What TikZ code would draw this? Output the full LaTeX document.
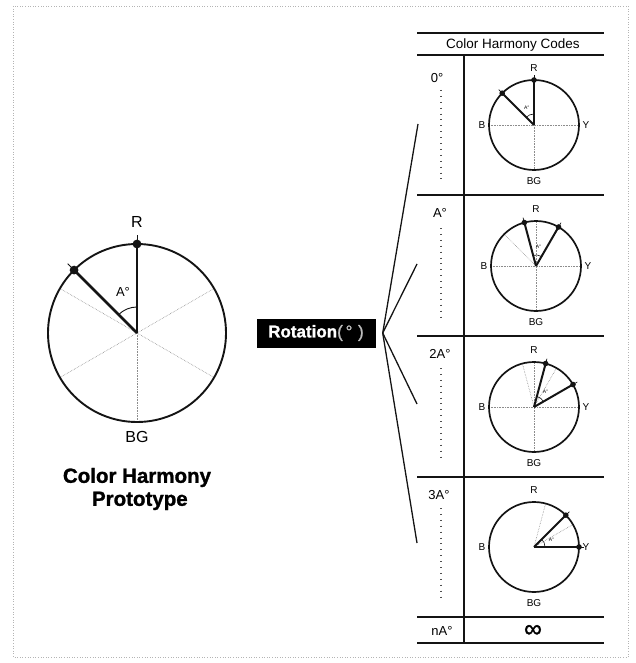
\documentclass[tikz,border=0pt]{standalone}
\usepackage{fontspec}
\setmainfont{Liberation Sans}
\newfontfamily\heavyfont[FakeBold=1.3]{Liberation Sans}
\usetikzlibrary{
  positioning,
  calc
}
\definecolor{chInk}{HTML}{141414}
\definecolor{chGuide}{HTML}{8C8C8C}
\definecolor{chFrame}{HTML}{B4B4B4}
\definecolor{chParen}{HTML}{BDBDBD}
\tikzset{
  frame/.style={draw=chFrame, line width=0.6pt, dotted},
  rim/.style={draw=chInk, line width=1.7pt},
  hand/.style={draw=chInk, line width=2pt},
  knobtick/.style={draw=chInk, line width=0.7pt},
  guide/.style={draw=chGuide, line width=0.6pt, densely dotted},
  anglearc/.style={draw=chInk, line width=0.6pt},
  rule/.style={draw=chInk, line width=1.5pt},
  spoke/.style={draw=chInk, line width=1.3pt},
  dotcol/.style={draw=chInk!75, line width=1.4pt, dash pattern=on 0.9pt off 5pt},
  rowtag/.style={font=\fontsize{13}{15}\selectfont, inner sep=1pt},
  headtext/.style={font=\fontsize{13.5}{15}\selectfont, inner sep=1pt},
  wheeltag/.style={font=\fontsize{10}{11}\selectfont, inner sep=0.5pt},
  tinytag/.style={font=\fontsize{5}{6}\selectfont, inner sep=0pt},
  prototag/.style={font=\fontsize{16}{18}\selectfont, inner sep=1pt},
  title/.style={font=\heavyfont\bfseries\fontsize{20.5}{23}\selectfont, align=center, inner sep=1pt},
  rotbox/.style={fill=black, text=white, font=\heavyfont\bfseries\fontsize{17}{19}\selectfont,
    minimum width=119pt, minimum height=29pt, inner sep=2pt},
  wheel/.pic={
    \draw[rim] (0,0) circle[radius=45];
    \node[wheeltag] (-R) at (0,57) {R};
    \node[wheeltag] (-B) at (-52,0) {B};
    \node[wheeltag] (-Y) at (52,0) {Y};
    \node[wheeltag] (-BG) at (0,-56) {BG};
  }
}

\begin{document}
\begin{tikzpicture}[x=1pt, y=1pt]
  \useasboundingbox (0,0) rectangle (635,-663);
  \draw[frame] (13,-6) rectangle (628,-657);

  % prototype wheel
  \coordinate (pc) at (137,-333);
  \foreach \a in {30,150,210,270,330}
    \draw[guide] (pc) -- ++(\a:89);
  \draw[rim, line width=1.9pt] (pc) circle[radius=89];
  \foreach \a in {90,135} {
    \draw[hand, line width=2.7pt] (pc) -- ++(\a:89);
    \draw[knobtick, line width=0.9pt] (pc) ++(\a:89) -- ++(\a:9);
    \fill[chInk] (pc) ++(\a:89) circle[radius=4.4];
  }
  \draw[anglearc, line width=0.9pt] (pc) ++(90:26) arc[start angle=90, end angle=135, radius=26];
  \node[prototag, font=\fontsize{13}{15}\selectfont] (pA) at (123,-292) {A°};
  \node[prototag] (pR) at (137,-222) {R};
  \node[prototag] (pBG) at (137,-437) {BG};
  \node[title] (ptitle) at (137,-489) {Color Harmony\\ \ Prototype};

  % rotation and fan
  \node[rotbox] (rot) at (316,-333) {Rotation\textcolor{chParen}{\mdseries(\,°\,\,)}};
  \coordinate[right=7pt of rot] (fan);
  \coordinate (f1) at (418,-124);
  \coordinate (f2) at (417,-264);
  \coordinate (f3) at (417,-404);
  \coordinate (f4) at (417,-543);
  \foreach \e in {f1,f2,f3,f4}
    \draw[spoke] (fan) -- (\e);

  % table of codes
  \draw[rule] (417,-33) -- (604,-33);
  \node[headtext] (head) at (513,-45) {Color Harmony Codes};
  \draw[rule] (417,-55) -- (604,-55);
  \draw[rule] (464,-55) -- (464,-643);
  \foreach \y in {195,336,477,617,643}
    \draw[rule] (417,-\y) -- (604,-\y);

  \node[rowtag] (r0) at (437,-78) {0°};
  \node[rowtag] (r1) at (440,-213) {A°};
  \node[rowtag] (r2) at (440,-354) {2A°};
  \node[rowtag] (r3) at (439,-495) {3A°};
  \node[rowtag] (rn) at (442,-631) {nA°};
  \node[font=\heavyfont\fontsize{25}{25}\selectfont, inner sep=0pt] (inf) at (533,-631) {∞};
  \foreach \y in {90,228,368,508}
    \draw[dotcol] (441,-\y) -- ++(0,-90);

  % code wheels
  \coordinate (w0) at (534,-125);
  \coordinate (w1) at (536,-266);
  \coordinate (w2) at (534,-407);
  \coordinate (w3) at (534,-547);

  \draw[guide] (w0) ++(180:45) -- ++(90,0);
  \draw[guide] (w0) -- ++(270:45);
  \draw[guide] (w1) ++(180:45) -- ++(90,0);
  \draw[guide] (w1) ++(270:45) -- ++(0,90);
  \draw[guide] (w1) -- ++(135:45);
  \draw[guide] (w2) ++(180:45) -- ++(90,0);
  \draw[guide] (w2) ++(270:45) -- ++(0,90);
  \foreach \a in {105,60}
    \draw[guide] (w2) -- ++(\a:45);
  \foreach \a in {75,30}
    \draw[guide] (w3) -- ++(\a:45);

  \pic (wa) at (w0) {wheel};
  \pic (wb) at (w1) {wheel};
  \pic (wc) at (w2) {wheel};
  \pic (wd) at (w3) {wheel};

  \foreach \c/\a/\b in {w0/135/90, w1/105/60, w2/75/30, w3/45/0} {
    \foreach \h in {\a,\b} {
      \draw[hand] (\c) -- ++(\h:45);
      \draw[knobtick] (\c) ++(\h:45) -- ++(\h:5);
      \fill[chInk] (\c) ++(\h:45) circle[radius=2.8];
    }
    \draw[anglearc] (\c) ++(\b:11) arc[start angle=\b, end angle=\a, radius=11];
    \node[tinytag] at ($(\c)+({(\a+\b)/2}:19)$) {A°};
  }
\end{tikzpicture}
\end{document}
